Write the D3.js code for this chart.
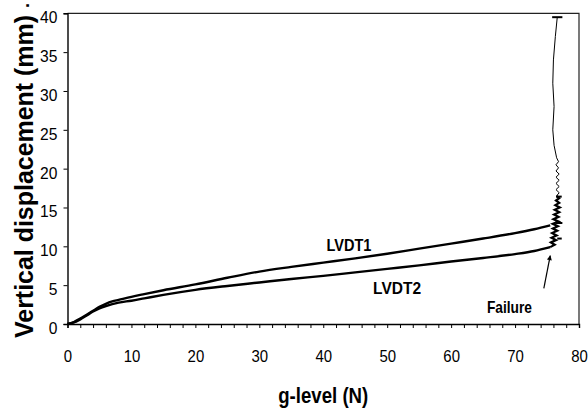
<!DOCTYPE html>
<html><head><meta charset="utf-8">
<script src="https://cdn.jsdelivr.net/npm/d3@7"></script>
<style>
html,body{margin:0;padding:0;background:#fff;}
svg text{font-family:Arial,"Liberation Sans",sans-serif;fill:#000;}
</style></head>
<body><svg id="c" width="588" height="411"></svg>
<script>
// ---- data ----
const lvdt1X = [0,1,2,3,4,5,6,7,8,10,12,15,20,25,30,35,40,45,50,55,60,65,70,73,75.5];
const lvdt1Y = [0,0.25,0.7,1.2,1.7,2.2,2.6,2.9,3.1,3.5,3.85,4.35,5.1,5.95,6.75,7.35,7.9,8.45,9.05,9.7,10.35,11.0,11.7,12.2,12.7];
const lvdt2X = [0,1,2,3,4,5,6,7,8,10,12,15,20,25,30,35,40,45,50,55,60,65,70,73,75.5];
const lvdt2Y = [0,0.2,0.6,1.1,1.6,2.0,2.3,2.55,2.75,3.0,3.3,3.75,4.4,4.9,5.35,5.8,6.2,6.65,7.1,7.55,8.05,8.5,9.0,9.4,9.9];
// noisy band after failure
const bandX = [75.5,76.2,75.6,76.4,75.7,76.5,75.8,76.6,75.9,76.7,75.9,76.8,76.0,76.8,76.1,76.9,76.2,77.0,76.3,76.9,76.4,76.9,76.5];
const bandY = [9.9,10.2,10.5,10.8,11.1,11.4,11.7,12.0,12.3,12.6,12.9,13.2,13.5,13.8,14.1,14.4,14.7,15.0,15.3,15.6,15.9,16.2,16.5];
// small zigzag and thin line up to the end
const upX = [76.5,76.9,76.4,76.9,76.4,76.9,76.4,76.9,76.4,76.8,76.4,76.8,76.5,76.1,75.9,76.1,75.9,76.0,76.3,76.6];
const upY = [16.5,16.9,17.3,17.7,18.1,18.5,18.9,19.3,19.7,20.1,20.5,20.9,21.4,23,25,28,31,34,37,39.5];
const capX0 = [75.8,76.4,76.3,76.6];
const capX1 = [77.4,77.3,77.4,77.3];
const capY  = [39.5,16.4,13.0,11.0];
const xTicks = [0,10,20,30,40,50,60,70,80];
const yTicks = [0,5,10,15,20,25,30,35,40];
const labelTexts = ["LVDT1","LVDT2","Failure"];
const labelX = [40.5,47.8,65.6];
const labelY = [9.4,3.8,1.4];
const labelW = [45,48,45];
const arrowFrom = [74.5,4.6];
const arrowTo = [75.5,8.8];

// ---- chart ----
const svg = d3.select("#c");
const L = 67.5, R = 579, T = 13.3, B = 324;
const x = d3.scaleLinear().domain([0,80]).range([L,R]);
const y = d3.scaleLinear().domain([0,40]).range([B,T]);

svg.append("path").attr("d",`M${L},${T}H${R}V${B}`).attr("fill","none").attr("stroke","#222").attr("stroke-width",1.2);

const xAxis = svg.append("g").attr("transform",`translate(0,${B})`)
  .call(d3.axisBottom(x).tickValues(d3.range(0,81,2)).tickSize(4).tickPadding(22)
    .tickFormat(d => xTicks.includes(d) ? d : ""));
xAxis.select(".domain").attr("stroke","#000").attr("stroke-width",1.4);
xAxis.selectAll(".tick line").attr("stroke","#000").attr("stroke-width",1);
xAxis.selectAll("text").attr("font-size",17).attr("font-family","Arial, Liberation Sans, sans-serif")
  .attr("transform","scale(0.88,1)");

const yAxis = svg.append("g").attr("transform",`translate(${L},0)`)
  .call(d3.axisLeft(y).tickValues(yTicks).tickSize(4).tickPadding(7));
yAxis.select(".domain").attr("stroke","#000").attr("stroke-width",1.4);
yAxis.selectAll(".tick line").attr("stroke","#000").attr("stroke-width",1);
yAxis.selectAll("text").attr("font-size",17).attr("dy","0.55em").attr("font-family","Arial, Liberation Sans, sans-serif")
  .attr("transform","scale(0.92,1)");

const smooth = d3.line().x(d=>x(d[0])).y(d=>y(d[1])).curve(d3.curveMonotoneX);
const line = d3.line().x(d=>x(d[0])).y(d=>y(d[1]));
const zip = (a,b)=>a.map((v,i)=>[v,b[i]]);

svg.append("path").datum(zip(lvdt2X,lvdt2Y)).attr("d",smooth)
  .attr("fill","none").attr("stroke","#000").attr("stroke-width",2.4).attr("stroke-linejoin","round");
svg.append("path").datum(zip(lvdt1X,lvdt1Y)).attr("d",smooth)
  .attr("fill","none").attr("stroke","#000").attr("stroke-width",2.4).attr("stroke-linejoin","round");
svg.append("path").datum(zip(bandX,bandY)).attr("d",line)
  .attr("fill","none").attr("stroke","#000").attr("stroke-width",2.2);
svg.append("path").datum(zip(upX,upY)).attr("d",line)
  .attr("fill","none").attr("stroke","#000").attr("stroke-width",1);
svg.selectAll("line.cap").data(capY).enter().append("line").attr("class","cap")
  .attr("x1",(d,i)=>x(capX0[i])).attr("x2",(d,i)=>x(capX1[i]))
  .attr("y1",d=>y(d)).attr("y2",d=>y(d)).attr("stroke","#000").attr("stroke-width",2);

svg.append("defs").append("marker").attr("id","ah").attr("viewBox","0 0 10 10")
  .attr("refX",9).attr("refY",5).attr("markerWidth",11).attr("markerHeight",5).attr("orient","auto")
  .attr("markerUnits","userSpaceOnUse")
  .append("path").attr("d","M0,0L10,5L0,10Z").attr("fill","#000");
svg.append("line").attr("x1",x(arrowFrom[0])).attr("y1",y(arrowFrom[1]))
  .attr("x2",x(arrowTo[0])).attr("y2",y(arrowTo[1]))
  .attr("stroke","#000").attr("stroke-width",1.2).attr("marker-end","url(#ah)");

svg.selectAll("text.lab").data(labelTexts).enter().append("text").attr("class","lab")
  .attr("x",(d,i)=>x(labelX[i])).attr("y",(d,i)=>y(labelY[i]))
  .attr("font-size",17).attr("font-weight","bold")
  .attr("textLength",(d,i)=>labelW[i]).attr("lengthAdjust","spacingAndGlyphs").text(d=>d);

svg.append("text").attr("x",(L+R)/2-45).attr("y",403).attr("font-size",22).attr("font-weight","bold")
  .attr("textLength",90).attr("lengthAdjust","spacingAndGlyphs").text("g-level (N)");
svg.append("text").attr("transform","translate(33,338) rotate(-90)").attr("font-size",25).attr("font-weight","bold")
  .attr("textLength",323).attr("lengthAdjust","spacingAndGlyphs").text("Vertical displacement (mm)");
svg.append("text").attr("transform","translate(29,8) rotate(-90)").attr("font-size",18).attr("font-weight","bold").text(".");
</script></body></html>
